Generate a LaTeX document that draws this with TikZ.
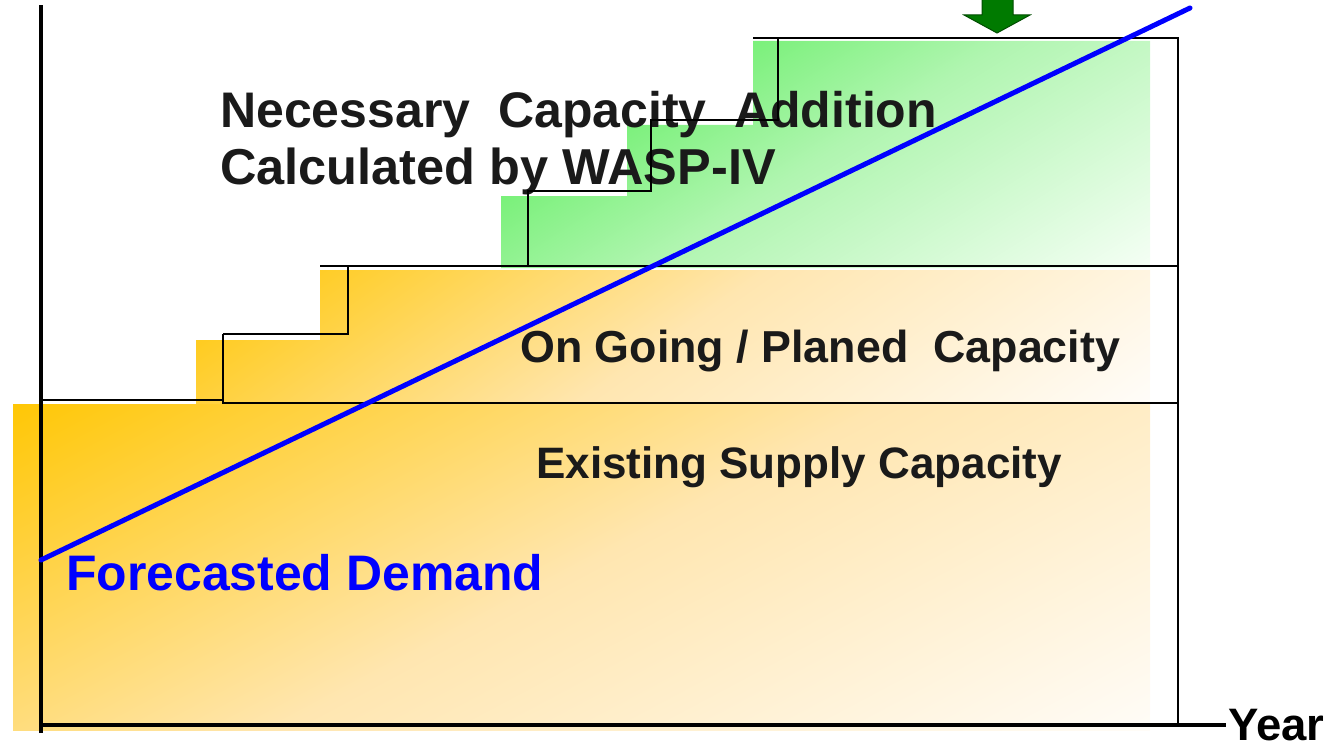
\documentclass[tikz,border=0pt]{standalone}
\usepackage{fontspec}
\setmainfont{Liberation Sans}
\definecolor{orA}{HTML}{FFC600}
\definecolor{orM}{HTML}{FFE6B0}
\definecolor{orB}{HTML}{FFFDFA}
\definecolor{grA}{HTML}{44EC44}
\definecolor{grM}{HTML}{B0F5B0}
\definecolor{grB}{HTML}{F6FFF6}
\definecolor{txt}{HTML}{1A1A1A}
\definecolor{arrG}{HTML}{007A00}
\pgfdeclareverticalshading{orsh}{100bp}{color(0bp)=(orB); color(15bp)=(orB); color(50bp)=(orM); color(85bp)=(orA); color(100bp)=(orA)}
\pgfdeclareverticalshading{grsh}{100bp}{color(0bp)=(grB); color(15bp)=(grB); color(50bp)=(grM); color(85bp)=(grA); color(100bp)=(grA)}
\begin{document}
\begin{tikzpicture}[x=1pt,y=-1pt,
  outl/.style={draw=black,line width=1.6pt},
  axisl/.style={draw=black,line width=4pt},
  lbl/.style={anchor=base west,inner sep=0pt,text=txt,font=\bfseries},
  demand/.style={draw=blue,line width=5pt,line cap=round}]
\useasboundingbox (0,0) rectangle (1341,749);
% fills
\shade[shading=orsh,shading angle=28] (13,404) rectangle (1150,730);
\shade[shading=orsh,shading angle=35] (196,404) -- (196,340) -- (320,340) -- (320,270) -- (1150,270) -- (1150,404) -- cycle;
\shade[shading=grsh,shading angle=32] (501,268) -- (501,196) -- (627,196) -- (627,125) -- (753,125) -- (753,41) -- (1150,41) -- (1150,268) -- cycle;
% texts
\node[lbl,font=\bfseries\fontsize{50}{50}\selectfont] (t1) at (220,128) {Necessary\ \ Capacity\ \ Addition};
\node[lbl,font=\bfseries\fontsize{50.5}{50.5}\selectfont] (t2) at (220,184) {Calculated by WASP-IV};
\node[lbl,font=\bfseries\fontsize{44.8}{44.8}\selectfont] (t3) at (520,362) {On Going / Planed\ \ Capacity};
\node[lbl,font=\bfseries\fontsize{44}{44}\selectfont] (t4) at (536,478) {Existing Supply Capacity};
\node[lbl,text=blue,font=\bfseries\fontsize{49.9}{49.9}\selectfont] (t5) at (66,590) {Forecasted Demand};
% outlines
\coordinate (p1) at (41,400);
\coordinate (p2) at (223,400);
\draw[outl] (p1) -- (p2);
\coordinate (q1) at (1178,403);
\coordinate (q2) at (223,403);
\coordinate (q3) at (223,334);
\coordinate (q4) at (348,334);
\coordinate (q5) at (348,266);
\coordinate (q6) at (320,266);
\coordinate (q7) at (1178,266);
\draw[outl] (q1) -- (q2) -- (q3);
\draw[outl] (q3) -- (q4) -- (q5);
\draw[outl] (q6) -- (q7);
\coordinate (g1) at (528,266);
\coordinate (g2) at (528,191);
\coordinate (g3) at (651,191);
\coordinate (g4) at (651,120);
\coordinate (g5) at (778,120);
\coordinate (g6) at (778,38);
\coordinate (g7) at (753,38);
\coordinate (g8) at (1178,38);
\coordinate (g9) at (1178,725);
\draw[outl] (g1) -- (g2) -- (g3) -- (g4) -- (g5) -- (g6);
\draw[outl] (g7) -- (g8) -- (g9);
% axes
\coordinate (o) at (41,725);
\coordinate (ytop) at (41,5);
\coordinate (ybot) at (41,733);
\coordinate (xend) at (1226,725);
\draw[axisl] (ybot) -- (ytop);
\draw[axisl] (o) -- (xend);
\node[lbl,text=black,font=\bfseries\fontsize{45.5}{45.5}\selectfont] (year) at (1228,740) {Year};
% demand line
\coordinate (d0) at (41,560);
\coordinate (d1) at (1190,8);
\draw[demand] (d0) -- (d1);
% green arrow
\draw[fill=arrG,draw=black!70!green,line width=1pt] (982,-2) -- (1013,-2) -- (1013,15) -- (1030,15) -- (997,33) -- (964,15) -- (982,15) -- cycle;
\end{tikzpicture}
\end{document}
